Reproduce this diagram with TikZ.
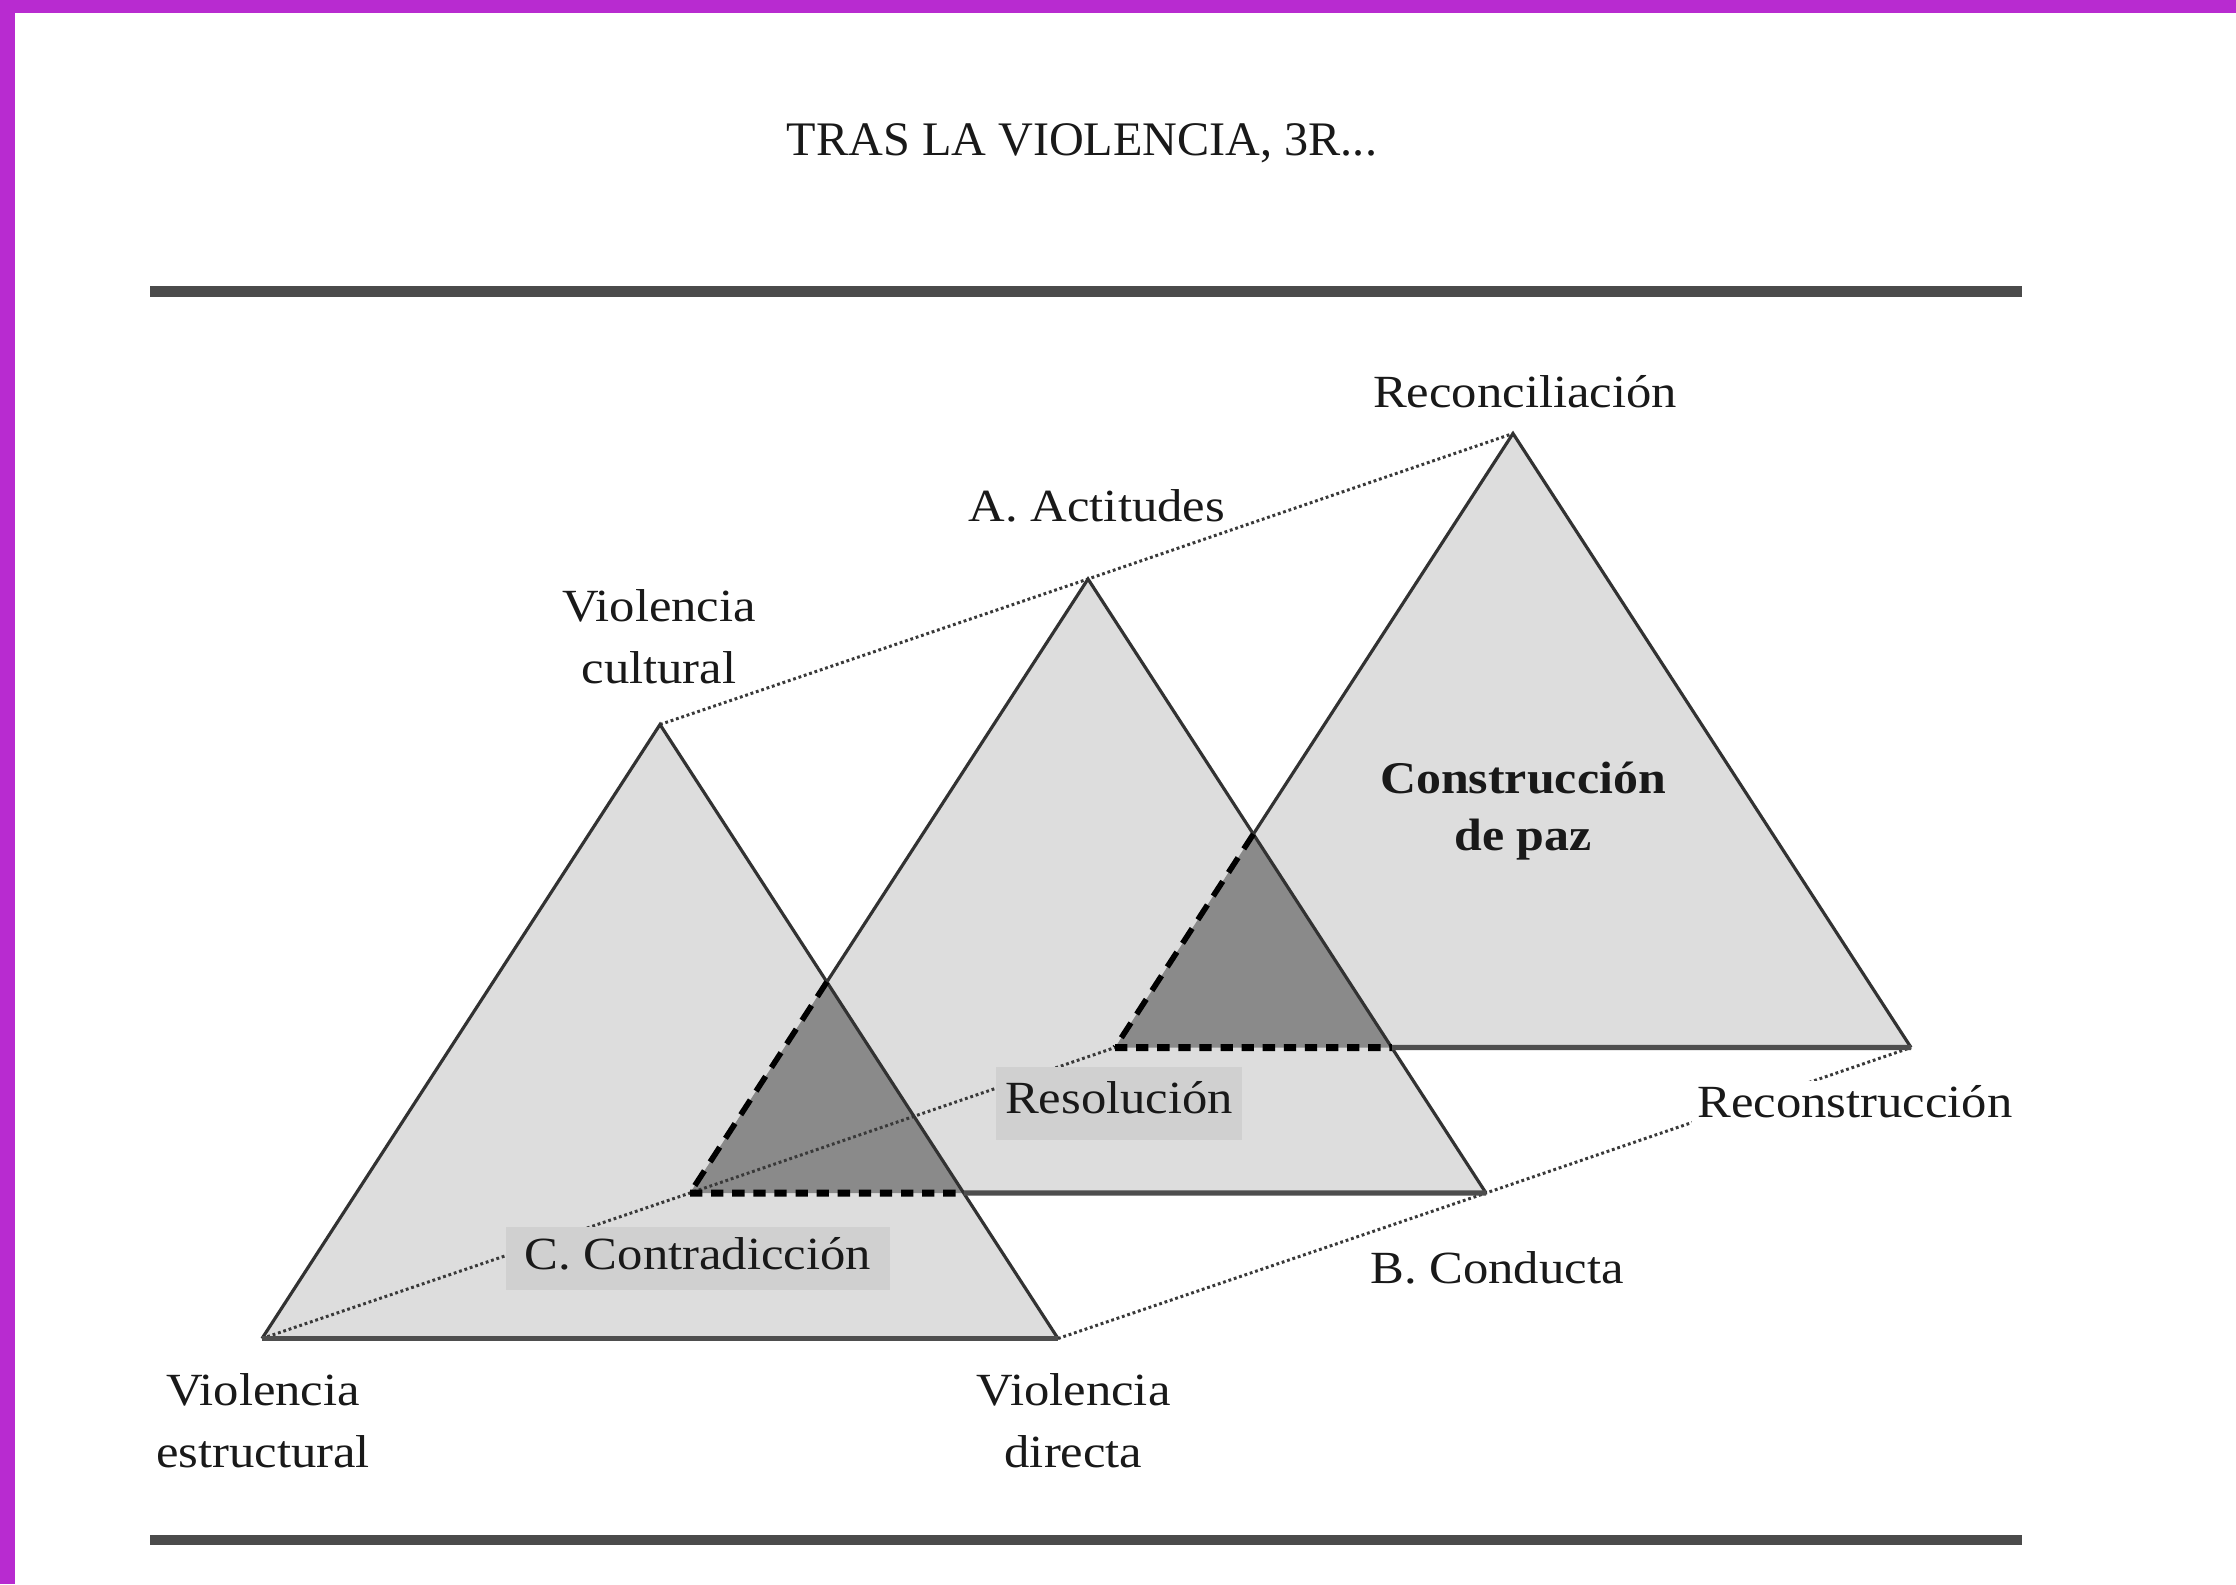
\documentclass[tikz,border=0pt]{standalone}
\usepackage{fontspec}
\setmainfont{Liberation Serif}[FakeStretch=1.1]
\newfontfamily\titlefont{Liberation Serif}
\definecolor{purp}{RGB}{184,43,208}
\definecolor{fillL}{RGB}{221,221,221}
\definecolor{fillD}{RGB}{138,138,138}
\definecolor{boxC}{RGB}{208,208,208}
\definecolor{edgeC}{RGB}{50,50,50}
\definecolor{baseC}{RGB}{78,78,78}
\definecolor{ruleC}{RGB}{75,75,75}
\definecolor{txtC}{RGB}{25,25,25}
\tikzset{
  lbl/.style={font=\fontsize{13.1}{17.4}\selectfont, text=txtC, inner sep=0pt, anchor=base, align=center},
  blbl/.style={font=\fontsize{12.9}{16.2}\selectfont\bfseries, text=txtC, inner sep=0pt, anchor=base, align=center},
  tfill/.style={fill=fillL},
  dfill/.style={fill=fillD},
  tedge/.style={draw=edgeC, line width=0.9pt, line join=miter},
  tbase/.style={draw=baseC, line width=1.5pt},
  dashS/.style={draw=black, line width=1.6pt, dash pattern=on 5pt off 3pt},
  dashB/.style={draw=black, line width=2pt, dash pattern=on 3.5pt off 2.5pt},
  dotline/.style={draw=gray!45!black, line width=0.85pt, dash pattern=on 0.8pt off 0.8pt},
  rulestyle/.style={draw=ruleC, line width=3.1pt},
}
\begin{document}
\begin{tikzpicture}[x=0.01cm, y=-0.01cm]
\useasboundingbox (0,0) rectangle (2236,1584);
\fill[white] (0,0) rectangle (2236,1584);
\fill[purp] (0,0) rectangle (2236,13);
\fill[purp] (0,0) rectangle (15,1584);

% title and rules
\node[font=\titlefont\fontsize{13.7}{16}\selectfont, text=txtC, inner sep=0pt, anchor=base] (title) at (1082,155) {TRAS LA VIOLENCIA, 3R...};
\coordinate (rt1) at (150,291.5); \coordinate (rt2) at (2022,291.5);
\coordinate (rb1) at (150,1540); \coordinate (rb2) at (2022,1540);
\draw[rulestyle] (rt1) -- (rt2);
\draw[rulestyle] (rb1) -- (rb2);

% triangle vertices
\coordinate (L1) at (262,1338.5); \coordinate (R1) at (1058,1338.5); \coordinate (A1) at (660,724.5);
\coordinate (L2) at (690,1193);   \coordinate (R2) at (1486,1193);   \coordinate (A2) at (1088,579);
\coordinate (L3) at (1115,1047.5); \coordinate (R3) at (1911,1047.5); \coordinate (A3) at (1513,433.5);

\coordinate (C12) at (intersection of A1--R1 and A2--L2);
\coordinate (P12) at (intersection of A1--R1 and L2--R2);
\coordinate (C23) at (intersection of A2--R2 and A3--L3);
\coordinate (P23) at (intersection of A2--R2 and L3--R3);

% fills
\fill[tfill] (L3) -- (A3) -- (R3) -- cycle;
\fill[tfill] (L2) -- (A2) -- (R2) -- cycle;
\fill[tfill] (L1) -- (A1) -- (R1) -- cycle;
\fill[dfill] (L2) -- (C12) -- (P12) -- cycle;
\fill[dfill] (L3) -- (C23) -- (P23) -- cycle;

% dotted connectors
\draw[dotline] (A1) -- (A2) -- (A3);
\draw[dotline] (L1) -- (L2) -- (L3);
\draw[dotline] (R1) -- (R2) -- (R3);

% triangle 1 outline
\draw[tedge] (L1) -- (A1) -- (R1);
\draw[tbase] (L1) -- (R1);
% triangle 2 outline
\draw[tedge] (C12) -- (A2) -- (R2);
\draw[tbase] (P12) -- (R2);
\draw[dashS] (C12) -- (L2);
\draw[dashB] (L2) -- (P12);
% triangle 3 outline
\draw[tedge] (C23) -- (A3) -- (R3);
\draw[tbase] (P23) -- (R3);
\draw[dashS] (C23) -- (L3);
\draw[dashB] (L3) -- (P23);

% labels (multi-line nodes: base = last line)
\node[lbl] (recon) at (1525,407) {Reconciliación};
\node[lbl] (actit) at (1097,521) {A. Actitudes};
\node[lbl] (vcult) at (659,683) {Violencia\\cultural};
\node[blbl] (constr) at (1523,850) {Construcción\\de paz};
\node[lbl, fill=boxC, inner xsep=0.09cm, inner ysep=0.05cm, text height=0.41cm, text depth=0.22cm] (resol) at (1119,1113) {Resolución};
\node[lbl, fill=boxC, inner xsep=0.19cm, inner ysep=0.05cm, text height=0.37cm, text depth=0.16cm] (contra) at (698,1269) {C. Contradicción};
\node[lbl, fill=white, inner xsep=0.05cm, inner ysep=0.02cm, text height=0.34cm, text depth=0.1cm] (recons) at (1855,1117) {Reconstrucción};
\node[lbl] (conduc) at (1497,1283) {B. Conducta};
\node[lbl] (vestr) at (263,1467) {Violencia\\estructural};
\node[lbl] (vdir) at (1073.5,1467) {Violencia\\directa};
\end{tikzpicture}
\end{document}
